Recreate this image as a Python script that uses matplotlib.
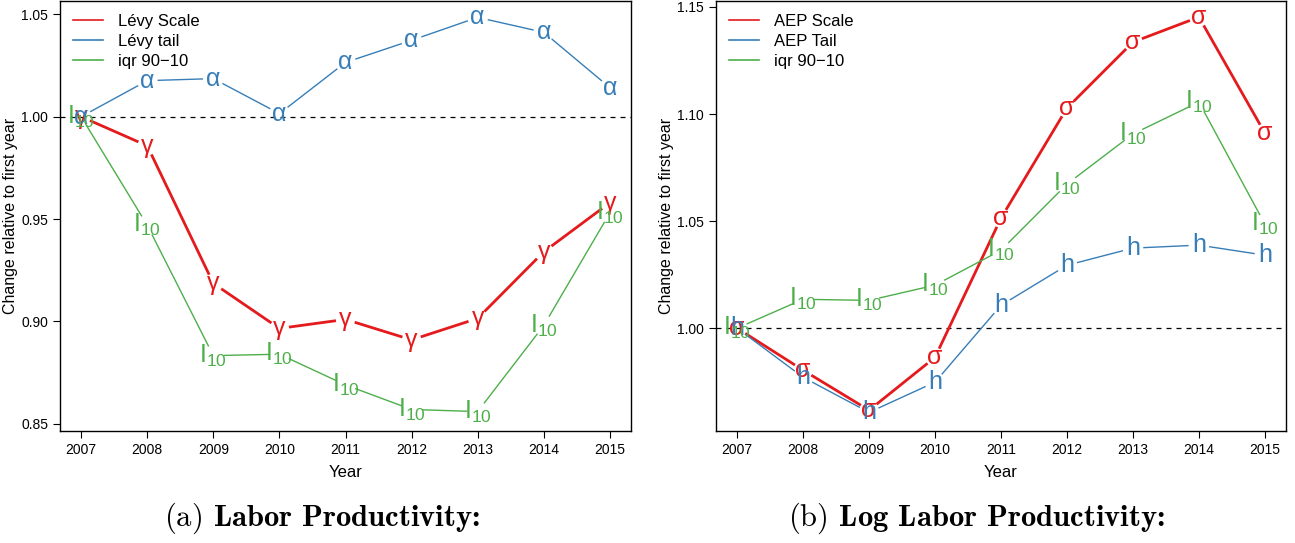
import numpy as np
import matplotlib
matplotlib.use("Agg")
import matplotlib.pyplot as plt

plt.rcParams['font.family'] = ['Liberation Sans', 'DejaVu Sans']
plt.rcParams['mathtext.fontset'] = 'cm'

years = np.arange(2007, 2016)

# (a) labor productivity, relative to 2007
levy_scale = [1.000, 0.9858, 0.9186, 0.8966, 0.9010, 0.8910, 0.9015, 0.9340, 0.9580]
levy_tail = [1.000, 1.0176, 1.0186, 1.0015, 1.0265, 1.0373, 1.0485, 1.0412, 1.0142]
iqr_a = [1.000, 0.9470, 0.8833, 0.8840, 0.8690, 0.8570, 0.8560, 0.8980, 0.9530]

# (b) log labor productivity, relative to 2007
aep_scale = [1.000, 0.9804, 0.9617, 0.9864, 1.0514, 1.1028, 1.1336, 1.1453, 1.0911]
aep_tail = [1.000, 0.9771, 0.9607, 0.9748, 1.0107, 1.0294, 1.0374, 1.0388, 1.0341]
iqr_b = [1.000, 1.0135, 1.0130, 1.0201, 1.0364, 1.0673, 1.0907, 1.1056, 1.0486]

RED = '#E41A1C'
BLUE = '#377EB8'
GREEN = '#4DAF4A'
IQR_SYM = r'$\mathregular{I_{10}}$'

W, H = 1295, 543
fig = plt.figure(figsize=(W / 100, H / 100), dpi=100)


def box(x0, x1, y0, y1):
    return [x0 / W, 1 - y1 / H, (x1 - x0) / W, (y1 - y0) / H]


def gapped_line(ax, x, y, gap=11, **kw):
    # R-style type="b": segments stop short of each point
    pts = ax.transData.transform(np.column_stack([x, y]))
    segs = []
    for p, q in zip(pts[:-1], pts[1:]):
        d = q - p
        L = np.hypot(*d)
        if L <= 2 * gap:
            continue
        u = d / L
        segs += [p + u * gap, q - u * gap, [np.nan, np.nan]]
    segs = np.array(segs)
    ok = ~np.isnan(segs[:, 0])
    out = np.full_like(segs, np.nan)
    out[ok] = ax.transData.inverted().transform(segs[ok])
    ax.plot(out[:, 0], out[:, 1], **kw)


def symbols(ax, x, y, sym, color):
    for xi, yi in zip(x, y):
        ax.text(xi, yi, sym, color=color, fontsize=18, ha='center', va='center')


def panel(rect, ylim, yticks, series, caption, cap_x):
    ax = fig.add_axes(rect)
    ax.set_xlim(2006.68, 2015.32)
    ax.set_ylim(*ylim)
    ax.set_xticks(years)
    ax.set_yticks(yticks)
    ax.set_yticklabels([f'{t:.2f}' for t in yticks])
    ax.tick_params(direction='out', length=5, width=0.8, labelsize=10, colors='black')
    for s in ax.spines.values():
        s.set_linewidth(1.0)
    ax.axhline(1.0, color='black', lw=0.9, ls=(0, (4, 4)))
    for vals, label, color, lw, sym in series:
        gapped_line(ax, years, vals, color=color, lw=lw, label=label)
        symbols(ax, years, vals, sym, color)
    ax.set_xlabel('Year', fontsize=12, labelpad=6)
    ax.set_ylabel('Change relative to first year', fontsize=11.5)
    ax.yaxis.set_label_coords(-0.073, 0.5)
    leg = ax.legend(loc='upper left', frameon=False, fontsize=12, handlelength=1.8,
                    handletextpad=0.9, labelspacing=0.3, borderaxespad=0.4)
    for ln in leg.get_lines():
        ln.set_linewidth(1.2)
    fig.text(cap_x / W, 1 - 518 / H, caption, fontsize=22, family='cmb10',
             ha='center', va='center')
    return ax


panel(box(60, 631, 1, 431), (0.8465, 1.0565), [0.85, 0.90, 0.95, 1.00, 1.05],
      [(levy_scale, 'Lévy Scale', RED, 2.0, 'γ'),
       (levy_tail, 'Lévy tail', BLUE, 1.0, 'α'),
       (iqr_a, 'iqr 90\u221210', GREEN, 1.0, IQR_SYM)],
      r'$\mathrm{(a)}$ Labor Productivity:', 322)

panel(box(716, 1286, 1, 431), (0.952, 1.1528), [1.00, 1.05, 1.10, 1.15],
      [(aep_scale, 'AEP Scale', RED, 2.0, 'σ'),
       (aep_tail, 'AEP Tail', BLUE, 1.0, 'h'),
       (iqr_b, 'iqr 90\u221210', GREEN, 1.0, IQR_SYM)],
      r'$\mathrm{(b)}$ Log Labor Productivity:', 976)

fig.savefig('out.png', dpi=100)
